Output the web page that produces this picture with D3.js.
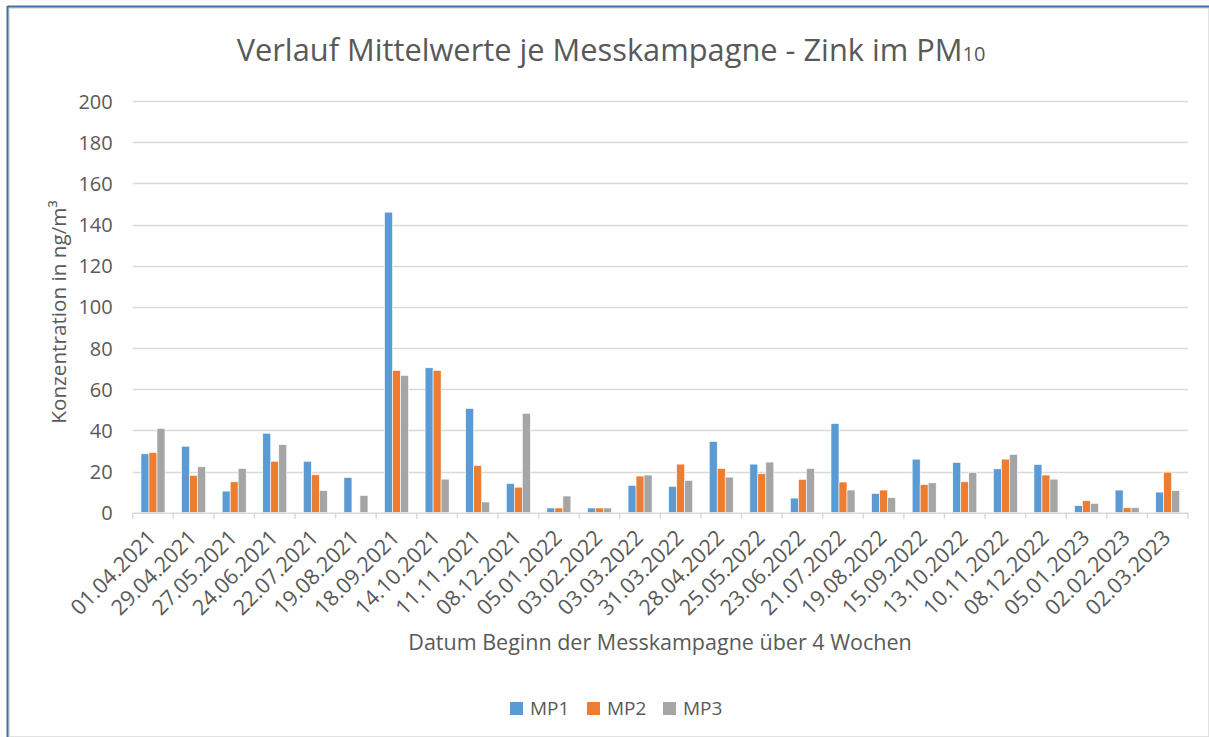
<!DOCTYPE html>
<html>
<head>
<meta charset="utf-8">
<script src="https://cdn.jsdelivr.net/npm/d3@7"></script>
<style>
  html, body { margin: 0; padding: 0; background: #fff; }
  svg { display: block; }
  text { font-family: "Open Sans", "Noto Sans", sans-serif; fill: #595959; }
</style>
</head>
<body>
<svg id="chart" width="1209" height="737"></svg>
<script>
const categories = ["01.04.2021","29.04.2021","27.05.2021","24.06.2021","22.07.2021","19.08.2021","18.09.2021","14.10.2021","11.11.2021","08.12.2021","05.01.2022","03.02.2022","03.03.2022","31.03.2022","28.04.2022","25.05.2022","23.06.2022","21.07.2022","19.08.2022","15.09.2022","13.10.2022","10.11.2022","08.12.2022","05.01.2023","02.02.2023","02.03.2023"];
const seriesNames = ["MP1", "MP2", "MP3"];
const mp1 = [28.6, 32.3, 10.5, 38.6, 25.0, 17.1, 146.0, 70.4, 50.6, 14.2, 2.3, 2.3, 13.3, 12.8, 34.6, 23.6, 7.1, 43.3, 9.4, 26.0, 24.4, 21.3, 23.4, 3.4, 11.0, 10.0];
const mp2 = [29.2, 18.1, 15.0, 25.0, 18.4, 0, 69.1, 69.1, 22.9, 12.4, 2.3, 2.3, 17.8, 23.6, 21.5, 18.9, 16.2, 14.9, 11.0, 13.6, 15.0, 26.0, 18.3, 5.8, 2.4, 19.7];
const mp3 = [40.9, 22.3, 21.5, 33.1, 10.8, 8.4, 66.7, 16.3, 5.2, 48.3, 8.1, 2.3, 18.3, 15.7, 17.3, 24.6, 21.5, 11.0, 7.3, 14.5, 19.6, 28.3, 16.3, 4.5, 2.4, 10.7];
const yTicks = [0, 20, 40, 60, 80, 100, 120, 140, 160, 180, 200];
const colors = ["#5B9BD5", "#ED7D31", "#A5A5A5"];

const svg = d3.select("#chart");

// frame
svg.append("rect").attr("x", 9).attr("y", 8).attr("width", 1200).attr("height", 729)
  .attr("fill", "none").attr("stroke", "#D9D9D9").attr("stroke-width", 1.5);
svg.append("line").attr("x1", 7.5).attr("x2", 1209).attr("y1", 6.5).attr("y2", 6.5)
  .attr("stroke", "#41719C").attr("stroke-width", 2);
svg.append("line").attr("x1", 7.5).attr("x2", 7.5).attr("y1", 6).attr("y2", 737)
  .attr("stroke", "#41719C").attr("stroke-width", 2);

const pLeft = 132.7, pRight = 1188, pTop = 101, pBottom = 512.7;
const x = d3.scaleBand().domain(categories).range([pLeft, pRight]).paddingInner(0).paddingOuter(0);
const groupW = 24;
const x1 = d3.scaleBand().domain(seriesNames).range([0, groupW]).padding(0);
const y = d3.scaleLinear().domain([0, 200]).range([pBottom, pTop]);

// gridlines
svg.append("g").selectAll("line").data(yTicks.filter(d => d > 0)).join("line")
  .attr("x1", pLeft).attr("x2", pRight)
  .attr("y1", d => Math.round(y(d)) + 0.5).attr("y2", d => Math.round(y(d)) + 0.5)
  .attr("stroke", "#D9D9D9").attr("stroke-width", 1.3);

// y axis labels
const yAxis = d3.axisLeft(y).tickValues(yTicks).tickSize(0).tickPadding(20);
const gy = svg.append("g").attr("transform", `translate(${pLeft},0)`).call(yAxis);
gy.attr("font-family", null).attr("font-size", null);
gy.select(".domain").remove();
gy.selectAll("text").style("font-size", "20px").attr("fill", "#595959").attr("dy", "0.35em");

// bars
const data = categories.map((c, i) => ({ c, vals: [mp1[i], mp2[i], mp3[i]] }));
const groups = svg.append("g").selectAll("g").data(data).join("g")
  .attr("transform", d => `translate(${x(d.c) + (x.bandwidth() - groupW) / 2},0)`);
groups.selectAll("rect").data(d => d.vals.map((v, k) => ({ v, k }))).join("rect")
  .attr("x", d => x1(seriesNames[d.k]))
  .attr("width", x1.bandwidth())
  .attr("y", d => y(d.v))
  .attr("height", d => y(0) - y(d.v))
  .attr("fill", d => colors[d.k])
  .attr("stroke", "#fff").attr("stroke-width", 0.6);

// x axis
const xAxis = d3.axisBottom(x).tickSize(0).tickFormat(d => d);
const gx = svg.append("g").attr("transform", `translate(0,${pBottom})`).call(xAxis);
gx.attr("font-family", null).attr("font-size", null);
gx.select(".domain").attr("stroke", "#D9D9D9").attr("stroke-width", 1.5);
gx.selectAll(".tick").remove();
// tick marks at band boundaries
const bounds = categories.map(c => x(c)).concat([pRight]);
gx.selectAll(".bnd").data(bounds).join("line").attr("class", "bnd")
  .attr("x1", d => d).attr("x2", d => d).attr("y1", 0).attr("y2", 6)
  .attr("stroke", "#D9D9D9").attr("stroke-width", 1.5);
gx.selectAll(".lbl").data(categories).join("text").attr("class", "lbl")
  .attr("transform", d => `translate(${x(d) + x.bandwidth() / 2 - 1},${21}) rotate(-45)`)
  .attr("text-anchor", "end").attr("dy", "0.35em")
  .style("font-size", "21.5px").text(d => d);

// title
const title = svg.append("text").attr("x", 611).attr("y", 61).attr("text-anchor", "middle")
  .style("font-size", "30.8px");
title.append("tspan").text("Verlauf Mittelwerte je Messkampagne - Zink im PM");
title.append("tspan").style("font-size", "20px").text("10");

// axis titles
svg.append("text").attr("transform", `translate(66,312) rotate(-90)`)
  .attr("text-anchor", "middle").style("font-size", "20.7px").text("Konzentration in ng/m³");
svg.append("text").attr("x", 660).attr("y", 650).attr("text-anchor", "middle")
  .style("font-size", "21.5px").text("Datum Beginn der Messkampagne über 4 Wochen");

// legend
const legendX = [510, 587, 663];
const lg = svg.append("g").selectAll("g").data(seriesNames).join("g")
  .attr("transform", (d, i) => `translate(${legendX[i]},702)`);
lg.append("rect").attr("width", 13).attr("height", 13).attr("fill", (d, i) => colors[i]);
lg.append("text").attr("x", 20).attr("y", 6.5).attr("dy", "0.35em").style("font-size", "19px").text(d => d);
</script>
</body>
</html>
